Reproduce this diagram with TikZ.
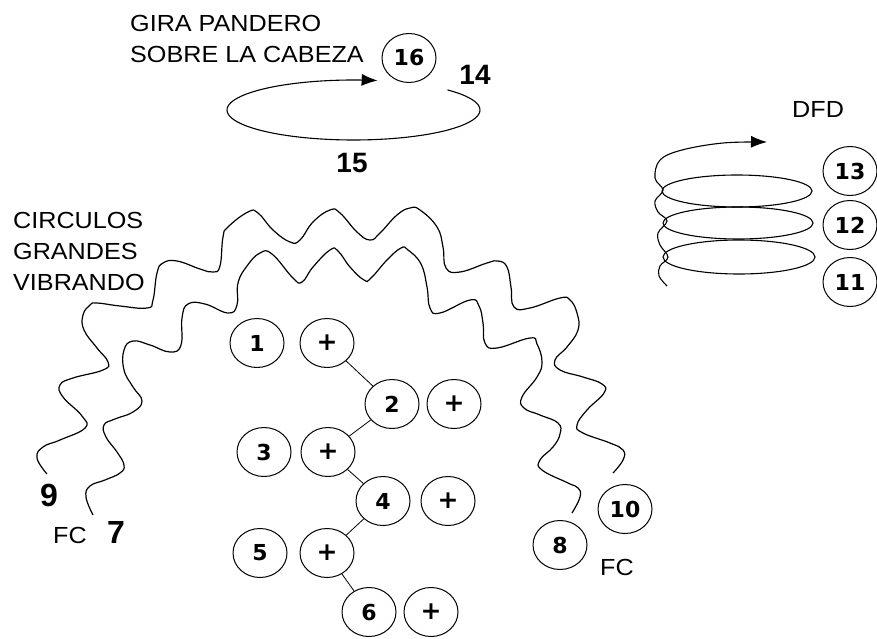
\documentclass[tikz,border=0pt]{standalone}
\usepackage{fontspec}
\setmainfont{Liberation Sans}
\newfontfamily\labelfont[FakeStretch=1.08]{Liberation Sans}
\newfontfamily\digitfont{DejaVu Sans}
\usetikzlibrary{arrows.meta,positioning,shapes.geometric}

\begin{document}
\begin{tikzpicture}[
        x=1pt, y=-1pt,
        every node/.style={inner sep=0pt},
        ring/.style={draw, ellipse, line width=1pt, minimum width=54pt, minimum height=49pt, font=\digitfont\bfseries\fontsize{22}{22}\selectfont},
        plusring/.style={ring, font=\digitfont\bfseries\fontsize{25}{25}\selectfont},
        caption/.style={align=left, anchor=north west, font=\labelfont\fontsize{23.3}{31}\selectfont},
        tag/.style={font=\bfseries\fontsize{28}{28}\selectfont},
        bigtag/.style={font=\bfseries\fontsize{32}{32}\selectfont},
        wave/.style={line width=1.2pt, smooth, tension=0.75},
        link/.style={line width=0.8pt},
        turn/.style={line width=1.1pt, -{Latex[length=16pt,width=12pt]}}
    ]
        \useasboundingbox (0,0) rectangle (877,639);

        \node[caption] (gira) at (130,15) {GIRA PANDERO\\SOBRE LA CABEZA};
        \node[caption] (circ) at (13,212) {CIRCULOS\\GRANDES\\VIBRANDO};
        \node[caption] (dfd) at (792,101) {DFD};
        \node[caption] (fcl) at (53,527) {FC};
        \node[caption] (fcr) at (600,559) {FC};

        \node[ring] (n16) at (409,58) {16};
        \node[tag] (t14) at (475,75) {14};
        \node[tag] (t15) at (352,163) {15};
        \draw[turn] plot[domain=-42:281, samples=90, smooth] ({353.5+126.5*cos(\x)}, {110+30*sin(\x)});

        % vibrating circles
        \draw[wave] plot coordinates {(47,474) (37,458) (43,447) (60,440) (85,428) (82,416) (63,397) (60,385) (73,378) (103,370) (108,362) (97,348) (84,330) (83,315) (90,305) (97,303) (120,306) (147,308) (153,300) (157,273) (163,263) (177,261) (200,269) (213,272) (220,266) (223,237) (228,227) (248,212) (258,213) (273,230) (290,242) (300,240) (313,222) (330,210) (340,213) (357,232) (370,240) (380,233) (397,215) (410,208) (420,210) (437,227) (443,247) (446,268) (460,272) (487,263) (498,261) (507,267) (511,287) (514,307) (530,308) (560,298) (570,300) (577,313) (578,330) (567,347) (555,360) (560,370) (583,377) (602,384) (604,393) (587,410) (577,425) (583,433) (610,443) (623,450) (623,460) (613,473)};
        \draw[wave] plot coordinates {(93,515) (86,497) (90,486) (105,480) (120,473) (124,465) (117,452) (106,437) (104,425) (115,419) (133,412) (142,401) (133,387) (124,370) (124,350) (133,341) (150,345) (170,352) (181,345) (182,318) (188,304) (205,304) (228,313) (237,305) (238,283) (247,266) (260,253) (272,254) (293,278) (302,282) (313,267) (330,250) (338,251) (350,267) (364,280) (371,278) (387,260) (401,248) (408,250) (421,264) (427,287) (430,308) (440,313) (470,300) (479,306) (483,323) (485,343) (497,348) (530,338) (537,344) (542,362) (537,377) (522,397) (524,408) (540,415) (558,423) (560,434) (553,447) (540,460) (542,470) (568,483) (578,488) (580,497) (572,513)};
        \node[bigtag] (t9) at (49,495) {9};
        \node[bigtag] (t7) at (116,532) {7};
        \node[ring] (n8) at (560,545) {8};
        \node[ring] (n10) at (625,509) {10};

        % spiral
        \draw[line width=1.1pt] (737,191) ellipse [x radius=75pt, y radius=16pt];
        \draw[line width=1.1pt] (738,223) ellipse [x radius=75pt, y radius=16pt];
        \draw[line width=1.1pt] (739,257) ellipse [x radius=76pt, y radius=17pt];
        \draw[turn] plot[smooth, tension=0.6] coordinates {(667,286) (659,276) (660,266) (668,257) (660,245) (658,233) (667,221) (658,212) (655,201) (663,190) (655,178) (660,160) (682,150) (723,143) (767,142)};
        \node[ring] (n13) at (850,171) {13};
        \node[ring] (n12) at (850,225) {12};
        \node[ring] (n11) at (850,282) {11};

        \node[ring] (n1) at (257,343) {1};
        \node[plusring, right=15pt of n1] (p1) {+};
        \node[ring] (n2) at (392,404) {2};
        \node[plusring, right=7pt of n2] (p2) {+};
        \node[ring] (n3) at (264,452) {3};
        \node[plusring, right=9pt of n3] (p3) {+};
        \node[ring] (n4) at (383,501) {4};
        \node[plusring, right=10pt of n4] (p4) {+};
        \node[ring] (n5) at (260,553) {5};
        \node[plusring, right=12pt of n5] (p5) {+};
        \node[ring] (n6) at (369,612) {6};
        \node[plusring, right=7pt of n6] (p6) {+};

        \draw[link] (p1) -- (n2);
        \draw[link] (n2) -- (p3);
        \draw[link] (p3) -- (n4);
        \draw[link] (n4) -- (p5);
        \draw[link] (p5) -- (n6);
    \end{tikzpicture}
\end{document}
